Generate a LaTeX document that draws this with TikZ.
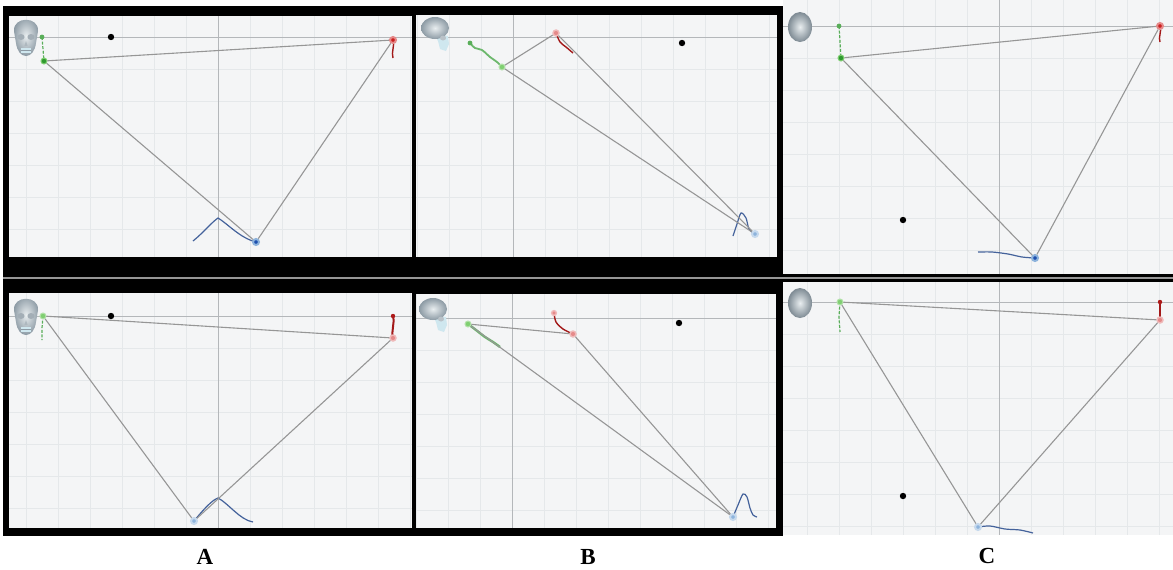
\documentclass[tikz,border=0pt]{standalone}
\usepackage{fontspec}
\setmainfont{Liberation Serif}
\definecolor{panelbg}{HTML}{F4F5F6}
\definecolor{gridc}{HTML}{E5E8EA}
\definecolor{axisc}{HTML}{B4B7BA}
\definecolor{linkc}{HTML}{969696}
\definecolor{gstrong}{HTML}{2F9A2F}
\definecolor{glight}{HTML}{80CF72}
\definecolor{rstrong}{HTML}{CC1F1F}
\definecolor{rlight}{HTML}{E58A8A}
\definecolor{bstrong}{HTML}{1D4FAE}
\definecolor{blight}{HTML}{8DB3DC}
\definecolor{bonelight}{HTML}{E9EEF0}
\definecolor{bonedark}{HTML}{8C9AA4}
\definecolor{bonesky}{HTML}{CFE7EF}
\tikzset{
  gridln/.style={draw=gridc, line width=0.4pt},
  axisln/.style={draw=axisc, line width=0.45pt},
  link/.style={draw=linkc, line width=0.55pt},
  sepline/.style={draw=linkc, line width=0.8pt},
  mark base/.style={circle, inner sep=0pt, minimum size=3pt},
  gbig/.style={mark base, fill=gstrong, draw=glight, line width=0.5pt},
  gsmall/.style={mark base, minimum size=2.4pt, fill=gstrong!80!white},
  gsoft/.style={mark base, fill=glight, draw=glight!60, line width=0.5pt},
  rbig/.style={mark base, fill=rstrong, draw=rlight, line width=1pt},
  rsoft/.style={mark base, fill=rlight, draw=rlight!60, line width=0.7pt},
  rsmall/.style={mark base, minimum size=2.2pt, fill=rstrong!85!black},
  bbig/.style={mark base, fill=bstrong, draw=blight, line width=1pt},
  bsoft/.style={mark base, fill=blight, draw=blight!50, line width=1pt},
  kdot/.style={mark base, minimum size=3.2pt, fill=black},
  gtrail/.style={draw=gstrong!80, line width=0.6pt, dash pattern=on 1.5pt off 0.8pt},
  gpath/.style={draw=gstrong!70, line width=0.9pt},
  rtrail/.style={draw=rstrong!80!black, line width=0.7pt},
  btrail/.style={draw=bstrong!60!gray, line width=0.6pt},
  lbl/.style={font=\fontsize{11.5}{12}\selectfont\bfseries, inner sep=0pt},
  frontskull/.pic={
    \shade[inner color=bonelight, outer color=bonedark]
      (-12,-6) .. controls (-13,-21) and (13,-21) .. (12,-6)
      -- (10,6) .. controls (9,14) and (5,19) .. (0,19)
      .. controls (-5,19) and (-9,14) .. (-10,6) -- cycle;
    \fill[bonedark!80] (-5,0) ellipse (3.5 and 3);
    \fill[bonedark!80] (5,0) ellipse (3.5 and 3);
    \fill[bonedark!70] (0,4) -- (-1.6,9) -- (1.6,9) -- cycle;
    \fill[bonesky] (-5,11) rectangle (5,16);
    \draw[bonedark, line width=0.3pt] (-5,13.5) -- (5,13.5);
  },
  sideskull/.pic={
    \fill[bonesky] (-2,2) -- (12,4) -- (13,12) -- (10,19) -- (4,17) -- (2,9) -- cycle;
    \shade[inner color=bonelight, outer color=bonedark]
      (-1,-4) ellipse (14 and 11);
    \fill[bonedark!60] (7,6) ellipse (3 and 2.5);
  },
  ovalskull/.pic={
    \shade[inner color=bonelight, outer color=bonedark!90!black]
      (0,0) ellipse (12 and 15);
  }
}
% light viewport with a grid and two axes
\newcommand\drawview[6]{%
  \begin{scope}
    \fill[panelbg] (#1,#2) rectangle (#3,#4);
    \clip (#1,#2) rectangle (#3,#4);
    \foreach \k in {-14,...,14}{
      \draw[gridln] ({#5+32*\k},#2) -- ({#5+32*\k},#4);
      \draw[gridln] (#1,{#6+32*\k}) -- (#3,{#6+32*\k});
    }
    \draw[axisln] (#5,#2) -- (#5,#4);
    \draw[axisln] (#1,#6) -- (#3,#6);
  \end{scope}}
\begin{document}
\begin{tikzpicture}[x=0.5pt,y=-0.5pt]
\useasboundingbox (0,0) rectangle (1173,569);
\fill[white] (0,0) rectangle (1173,569);

% black frame behind columns A and B, band behind column C
\fill[black] (3,6) rectangle (783,536);
\fill[black] (783,274) rectangle (1173,282);

% viewports
\drawview{9}{16}{412}{257}{218}{37}
\drawview{416}{15}{777}{257}{513}{37}
\drawview{783}{0}{1173}{274}{999}{26}
\drawview{9}{293}{412}{528}{218}{316}
\drawview{416}{294}{776}{528}{512}{318}
\drawview{783}{282}{1173}{535}{999}{302}

\draw[sepline] (3,278) -- (1173,278);

% ---------------- column A, top ----------------
\pic at (26,37) {frontskull};
\draw[gtrail] (42,37) -- (43,49) -- (44,61);
\draw[rtrail] (393,40) .. controls (395,46) and (391,52) .. (393,58);
\draw[btrail] (193,241) .. controls (203,233) and (212,222) .. (218,218)
  .. controls (228,224) and (240,238) .. (256,242);
\node[kdot] (a1k) at (111,37) {};
\node[gsmall] (a1g) at (42,37) {};
\node[gbig] (a1h) at (44,61) {};
\node[rbig] (a1r) at (393,40) {};
\node[bbig] (a1b) at (256,242) {};
\draw[link] (a1h) -- (a1r);
\draw[link] (a1h) -- (a1b);
\draw[link] (a1r) -- (a1b);

% ---------------- column A, bottom ----------------
\pic at (26,316) {frontskull};
\draw[gtrail] (43,316) -- (42,328) -- (42,340);
\draw[rtrail, line width=1pt] (393,316) .. controls (395,324) and (391,330) .. (393,338);
\draw[btrail] (194,521) .. controls (203,510) and (212,500) .. (218,498)
  .. controls (228,503) and (240,520) .. (253,522);
\node[kdot] (a2k) at (111,316) {};
\node[gsoft] (a2g) at (43,316) {};
\node[rsmall] (a2s) at (393,316) {};
\node[rsoft] (a2r) at (393,338) {};
\node[bsoft] (a2b) at (194,521) {};
\draw[link] (a2g) -- (a2r);
\draw[link] (a2g) -- (a2b);
\draw[link] (a2r) -- (a2b);

% ---------------- column B, top ----------------
\pic at (436,32) {sideskull};
\draw[gpath] plot[smooth] coordinates {(470,43) (475,48) (482,50) (490,57) (497,62) (502,67)};
\draw[rtrail] plot[smooth] coordinates {(556,33) (560,42) (566,47) (573,53)};
\draw[btrail] plot[smooth] coordinates {(733,236) (737,224) (741,213) (746,218) (749,229) (755,234)};
\node[kdot] (b1k) at (682,43) {};
\node[gsmall] (b1g) at (470,43) {};
\node[gsoft] (b1h) at (502,67) {};
\node[rsoft] (b1r) at (556,33) {};
\node[bsoft] (b1b) at (755,234) {};
\draw[link] (b1h) -- (b1r);
\draw[link] (b1h) -- (b1b);
\draw[link] (b1r) -- (b1b);

% ---------------- column B, bottom ----------------
\pic at (434,313) {sideskull};
\draw[gpath, line width=1.2pt] plot[smooth] coordinates {(468,324) (476,330) (485,337) (493,342) (500,347)};
\draw[rtrail] plot[smooth] coordinates {(554,313) (556,322) (563,329) (573,334)};
\draw[btrail] plot[smooth] coordinates {(733,517) (738,505) (743,494) (747,497) (750,508) (753,515) (757,517)};
\node[kdot] (b2k) at (679,323) {};
\node[gsoft] (b2g) at (468,324) {};
\node[rsoft, minimum size=2.4pt] (b2s) at (554,313) {};
\node[rsoft] (b2r) at (573,334) {};
\node[bsoft] (b2b) at (733,517) {};
\draw[link] (b2g) -- (b2r);
\draw[link] (b2g) -- (b2b);
\draw[link] (b2r) -- (b2b);

% ---------------- column C, top ----------------
\pic at (800,27) {ovalskull};
\draw[gtrail] (839,26) -- (840,42) -- (841,58);
\draw[rtrail] (1160,26) .. controls (1162,32) and (1158,37) .. (1160,42);
\draw[btrail] plot[smooth] coordinates {(978,252) (992,252) (1008,254) (1022,257) (1035,258)};
\node[kdot] (c1k) at (903,220) {};
\node[gsmall] (c1g) at (839,26) {};
\node[gbig] (c1h) at (841,58) {};
\node[rbig] (c1r) at (1160,26) {};
\node[bbig] (c1b) at (1035,258) {};
\draw[link] (c1h) -- (c1r);
\draw[link] (c1h) -- (c1b);
\draw[link] (c1r) -- (c1b);

% ---------------- column C, bottom ----------------
\pic at (800,303) {ovalskull};
\draw[gtrail] (840,302) -- (839,317) -- (840,332);
\draw[rtrail, line width=1pt] (1160,302) -- (1160,320);
\draw[btrail] plot[smooth] coordinates {(978,527) (990,526) (1005,529) (1020,530) (1033,533)};
\node[kdot] (c2k) at (903,496) {};
\node[gsoft] (c2g) at (840,302) {};
\node[rsmall] (c2s) at (1160,302) {};
\node[rsoft] (c2r) at (1160,320) {};
\node[bsoft] (c2b) at (978,527) {};
\draw[link] (c2g) -- (c2r);
\draw[link] (c2g) -- (c2b);
\draw[link] (c2r) -- (c2b);

% column labels
\node[lbl] (labA) at (205,557) {A};
\node[lbl] (labB) at (588,557) {B};
\node[lbl] (labC) at (987,556) {C};
\end{tikzpicture}
\end{document}
